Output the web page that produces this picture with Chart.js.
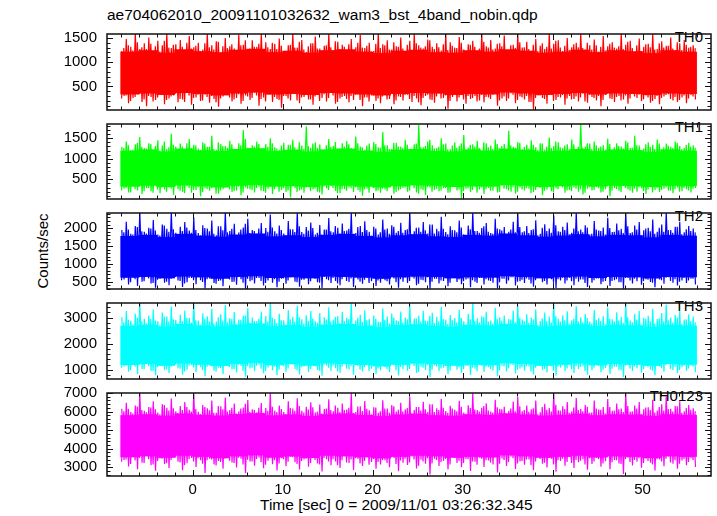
<!DOCTYPE html>
<html>
<head>
<meta charset="utf-8">
<script src="https://cdn.jsdelivr.net/npm/chart.js@4.4.0/dist/chart.umd.min.js"></script>
<style>
  body { margin: 0; background: #fff; width: 717px; height: 516px; position: relative; overflow: hidden;
         font-family: 'Liberation Sans', Arial, Helvetica, sans-serif; }
  canvas { position: absolute; left: 0; }
  .txt { position: absolute; color: #000; font-size: 15px; line-height: 17px; white-space: nowrap; }
</style>
</head>
<body>
<div class="txt" style="left:107px;top:6px;font-size:15.5px;line-height:18px">ae704062010_20091101032632_wam3_bst_4band_nobin.qdp</div>
<div class="txt" style="left:42px;top:251px;transform:translate(-50%,-50%) rotate(-90deg)">Counts/sec</div>
<div class="txt" style="left:260px;top:496px;font-size:15.5px">Time [sec] 0 = 2009/11/01 03:26:32.345</div>
<div id="labels"></div>
<script>
// x axis
const xMin = -9.52, xMax = 57.6;
const xTicks = [0, 10, 20, 30, 40, 50];
const xMinorFrom = -8, xMinorTo = 56, xMinorStep = 2;

// dense core of the light curve: 2 s bins (centres)
const coreTimes = [-7, -5, -3, -1, 1, 3, 5, 7, 9, 11, 13, 15, 17, 19, 21, 23,
  25, 27, 29, 31, 33, 35, 37, 39, 41, 43, 45, 47, 49, 51, 53, 55];
// spike traces: one peak and one dip every 0.5 s starting at -8 s
const traceStart = -8, traceStep = 0.5;

// ---- TH0 ----
const th0Ticks = [500, 1000, 1500];
const th0Lo = [340, 360, 330, 370, 350, 320, 360, 380, 340, 350, 330, 370, 360, 340, 320, 350,
  370, 360, 330, 350, 340, 380, 360, 330, 350, 370, 340, 360, 350, 330, 360, 350];
const th0Hi = [1210, 1240, 1190, 1260, 1220, 1200, 1250, 1270, 1200, 1230, 1190, 1240, 1260, 1210, 1180, 1230,
  1250, 1200, 1190, 1240, 1210, 1260, 1230, 1190, 1210, 1250, 1200, 1240, 1220, 1180, 1240, 1210];
const th0Peak = [1230, 1480, 1320, 1600, 1270, 1390, 1510, 1180, 1440, 1350,
  1600, 1290, 1370, 1460, 1220, 1540, 1310, 1400, 1260, 1600,
  1350, 1430, 1190, 1500, 1330, 1280, 1570, 1360, 1240, 1450,
  1320, 1600, 1410, 1270, 1380, 1490, 1230, 1350, 1600, 1300,
  1460, 1210, 1390, 1530, 1280, 1340, 1600, 1250, 1420, 1360,
  1180, 1480, 1310, 1560, 1290, 1400, 1230, 1600, 1370, 1450,
  1260, 1330, 1510, 1200, 1440, 1600, 1350, 1280, 1470, 1320,
  1390, 1240, 1600, 1410, 1300, 1520, 1260, 1370, 1440, 1210,
  1600, 1330, 1460, 1280, 1390, 1550, 1250, 1360, 1600, 1300,
  1420, 1190, 1480, 1340, 1270, 1600, 1380, 1450, 1230, 1500,
  1310, 1400, 1600, 1260, 1350, 1470, 1220, 1540, 1330, 1410,
  1280, 1600, 1360, 1440, 1200, 1490, 1320, 1380, 1600, 1270,
  1430, 1340, 1510, 1250, 1390, 1460, 1300, 1350];
const th0Dip = [300, 150, 260, 340, 180, 90, 280, 220, 360, 130,
  250, 310, 170, 230, 400, 120, 270, 200, 330, 160,
  240, 80, 290, 350, 190, 260, 140, 310, 220, 370,
  100, 270, 330, 180, 240, 60, 300, 210, 350, 150,
  280, 230, 120, 320, 260, 190, 380, 140, 250, 300,
  170, 220, 340, 90, 270, 310, 200, 150, 360, 240,
  130, 290, 210, 330, 180, 250, 110, 300, 230, 160,
  350, 260, 40, 280, 190, 320, 140, 240, 300, 210,
  170, 270, 330, 100, 250, 200, 360, 150, 290, 230,
  180, 20, 310, 260, 140, 340, 220, 270, 120, 300,
  240, 190, 350, 160, 280, 210, 90, 320, 250, 180,
  300, 230, 140, 370, 260, 200, 310, 160, 240, 130,
  290, 340, 210, 180, 270, 150, 320, 230];
const th0Peak2 = [1290, 1350, 1240, 1410, 1310, 1270, 1380, 1330, 1220, 1440,
  1300, 1360, 1250, 1320, 1400, 1280, 1340, 1230, 1390, 1310,
  1260, 1420, 1330, 1290, 1370, 1240, 1350, 1450, 1280, 1320,
  1380, 1250, 1310, 1400, 1270, 1340, 1230, 1360, 1300, 1420,
  1260, 1330, 1390, 1280, 1240, 1350, 1310, 1430, 1270, 1320,
  1370, 1250, 1400, 1300, 1340, 1220, 1380, 1290, 1350, 1260,
  1410, 1320, 1280, 1360, 1240, 1390, 1300, 1330, 1450, 1270,
  1310, 1370, 1250, 1340, 1290, 1400, 1230, 1360, 1320, 1280,
  1420, 1300, 1260, 1380, 1330, 1240, 1350, 1290, 1410, 1310,
  1270, 1360, 1230, 1390, 1320, 1280, 1440, 1300, 1340, 1250,
  1370, 1310, 1290, 1400, 1260, 1350, 1320, 1240, 1380, 1300,
  1330, 1270, 1420, 1290, 1350, 1230, 1370, 1310, 1260, 1390,
  1300, 1340, 1280, 1410, 1250, 1360, 1320, 1290];
const th0Dip2 = [250, 310, 200, 280, 340, 230, 300, 190, 270, 320,
  220, 290, 350, 240, 180, 310, 260, 330, 210, 280,
  300, 170, 250, 320, 270, 230, 340, 200, 290, 260,
  310, 240, 190, 330, 280, 220, 300, 250, 350, 210,
  270, 320, 230, 290, 200, 340, 260, 310, 180, 280,
  240, 300, 330, 220, 270, 190, 310, 250, 290, 230,
  350, 210, 280, 320, 240, 300, 170, 260, 330, 220,
  290, 250, 310, 200, 340, 270, 230, 300, 260, 190,
  320, 280, 240, 350, 210, 290, 250, 330, 220, 270,
  300, 180, 260, 310, 240, 340, 200, 280, 320, 250,
  230, 290, 270, 190, 330, 260, 300, 220, 350, 240,
  280, 210, 310, 250, 290, 330, 230, 270, 200, 300,
  260, 320, 240, 280, 220, 310, 250, 290];

// ---- TH1 ----
const th1Ticks = [500, 1000, 1500];
const th1Lo = [330, 350, 320, 360, 340, 310, 350, 370, 330, 340, 320, 360, 350, 330, 310, 340,
  360, 350, 320, 340, 330, 370, 350, 320, 340, 360, 330, 350, 340, 320, 350, 340];
const th1Hi = [1190, 1220, 1170, 1240, 1200, 1180, 1230, 1250, 1180, 1210, 1170, 1220, 1240, 1190, 1160, 1210,
  1230, 1180, 1170, 1220, 1190, 1240, 1210, 1170, 1190, 1230, 1180, 1220, 1200, 1160, 1220, 1190];
const th1Peak = [1290, 1420, 1210, 1350, 1530, 1260, 1380, 1180, 1450, 1320,
  1240, 1610, 1300, 1370, 1200, 1480, 1340, 1250, 1400, 1290,
  1560, 1220, 1360, 1310, 1440, 1190, 1380, 1700, 1270, 1330,
  1420, 1240, 1360, 1500, 1280, 1210, 1390, 1340, 1460, 1230,
  1320, 1790, 1270, 1400, 1350, 1200, 1480, 1310, 1250, 1380,
  1430, 1260, 1540, 1300, 1220, 1370, 1410, 1280, 1650, 1330,
  1240, 1390, 1300, 1460, 1210, 1350, 1820, 1280, 1420, 1330,
  1260, 1500, 1370, 1230, 1400, 1310, 1580, 1270, 1350, 1440,
  1200, 1380, 1320, 1470, 1250, 1360, 1680, 1290, 1410, 1230,
  1340, 1450, 1280, 1380, 1220, 1520, 1310, 1400, 1260, 1350,
  1470, 1240, 1850, 1300, 1370, 1420, 1270, 1330, 1490, 1210,
  1380, 1300, 1440, 1260, 1560, 1320, 1250, 1400, 1340, 1470,
  1230, 1370, 1290, 1420, 1310, 1260, 1390, 1330];
const th1Dip = [270, 180, 320, 230, 140, 290, 210, 350, 160, 250,
  300, 120, 260, 200, 330, 170, 240, 90, 280, 220,
  310, 150, 260, 340, 190, 230, 110, 300, 250, 180,
  320, 210, 270, 140, 350, 240, 190, 60, 290, 230,
  170, 310, 250, 200, 130, 280, 330, 220, 160, 260,
  300, 190, 240, 100, 270, 320, 210, 170, 250, 340,
  150, 230, 290, 200, 360, 180, 260, 120, 300, 240,
  210, 280, 170, 330, 230, 40, 270, 190, 310, 250,
  140, 290, 220, 180, 340, 260, 200, 150, 300, 230,
  270, 190, 320, 110, 250, 210, 280, 350, 170, 240,
  300, 200, 130, 270, 230, 310, 180, 260, 90, 290,
  220, 340, 250, 170, 200, 280, 140, 310, 240, 190,
  270, 230, 160, 300, 210, 260, 180, 290];
const th1Peak2 = [1260, 1330, 1220, 1390, 1290, 1250, 1360, 1310, 1200, 1420,
  1280, 1340, 1230, 1300, 1380, 1260, 1320, 1210, 1370, 1290,
  1240, 1400, 1310, 1270, 1350, 1220, 1330, 1480, 1260, 1300,
  1360, 1230, 1290, 1380, 1250, 1320, 1210, 1340, 1280, 1400,
  1240, 1310, 1370, 1260, 1220, 1330, 1290, 1410, 1250, 1300,
  1350, 1230, 1380, 1280, 1320, 1200, 1360, 1270, 1330, 1240,
  1390, 1300, 1260, 1340, 1220, 1370, 1280, 1310, 1460, 1250,
  1290, 1350, 1230, 1320, 1270, 1380, 1210, 1340, 1300, 1260,
  1400, 1280, 1240, 1360, 1310, 1220, 1330, 1270, 1390, 1290,
  1250, 1340, 1210, 1370, 1300, 1260, 1420, 1280, 1320, 1230,
  1350, 1290, 1270, 1380, 1240, 1330, 1300, 1220, 1360, 1280,
  1310, 1250, 1400, 1270, 1330, 1210, 1350, 1290, 1240, 1370,
  1280, 1320, 1260, 1390, 1230, 1340, 1300, 1270];
const th1Dip2 = [230, 290, 180, 260, 320, 210, 280, 170, 250, 300,
  200, 270, 330, 220, 160, 290, 240, 310, 190, 260,
  280, 150, 230, 300, 250, 210, 320, 180, 270, 240,
  290, 220, 170, 310, 260, 200, 280, 230, 330, 190,
  250, 300, 210, 270, 180, 320, 240, 290, 160, 260,
  220, 280, 310, 200, 250, 170, 290, 230, 270, 210,
  330, 190, 260, 300, 220, 280, 150, 240, 310, 200,
  270, 230, 290, 180, 320, 250, 210, 280, 240, 170,
  300, 260, 220, 330, 190, 270, 230, 310, 200, 250,
  280, 160, 240, 290, 220, 320, 180, 260, 300, 230,
  210, 270, 250, 170, 310, 240, 280, 200, 330, 220,
  260, 190, 290, 230, 270, 310, 210, 250, 180, 280,
  240, 300, 220, 260, 200, 290, 230, 270];

// ---- TH2 ----
const th2Ticks = [500, 1000, 1500, 2000];
const th2Lo = [620, 640, 600, 650, 630, 590, 640, 660, 610, 630, 600, 650, 640, 620, 590, 630,
  650, 640, 600, 630, 620, 660, 640, 600, 630, 650, 610, 640, 630, 600, 640, 630];
const th2Hi = [1770, 1800, 1740, 1830, 1780, 1750, 1810, 1840, 1760, 1790, 1740, 1800, 1830, 1770, 1730, 1790,
  1820, 1760, 1740, 1800, 1780, 1840, 1790, 1750, 1780, 1820, 1760, 1800, 1790, 1730, 1800, 1780];
const th2Peak = [1950, 2180, 1840, 2060, 2450, 1900, 2010, 2230, 1820, 2100,
  1980, 2450, 1870, 2040, 2170, 1930, 2300, 1860, 2080, 1990,
  2210, 1800, 2050, 2450, 1920, 2120, 1880, 2020, 2260, 1950,
  1840, 2140, 2000, 2380, 1910, 2070, 1850, 2200, 1970, 2450,
  1890, 2030, 2160, 1820, 2090, 1960, 2280, 1880, 2010, 2130,
  1930, 2450, 1860, 2060, 2190, 1900, 2040, 1820, 2240, 1990,
  2080, 1870, 2150, 1950, 2450, 1910, 2020, 2170, 1850, 2100,
  1980, 2320, 1890, 2050, 1940, 2210, 1830, 2070, 2450, 1920,
  2000, 2140, 1860, 2260, 1970, 2030, 1900, 2180, 2450, 1880,
  2060, 1950, 2220, 1840, 2110, 1990, 2350, 1910, 2040, 2160,
  1870, 2450, 1960, 2080, 1820, 2200, 1930, 2020, 2290, 1890,
  2130, 1980, 2450, 1860, 2070, 2170, 1940, 2010, 2240, 1900,
  2100, 2450, 1950, 2040, 2180, 1880, 2060, 1990];
const th2Dip = [560, 420, 610, 380, 500, 650, 450, 330, 580, 470,
  400, 620, 530, 350, 480, 600, 430, 540, 310, 590,
  460, 520, 370, 640, 490, 410, 570, 300, 510, 450,
  600, 390, 530, 470, 340, 580, 440, 620, 500, 360,
  550, 430, 610, 480, 320, 570, 460, 520, 400, 630,
  490, 350, 560, 440, 600, 510, 380, 470, 540, 420,
  590, 330, 500, 460, 620, 400, 550, 480, 300, 580,
  450, 520, 370, 610, 490, 430, 560, 340, 500, 600,
  420, 530, 470, 310, 580, 440, 620, 390, 510, 460,
  550, 360, 600, 480, 420, 570, 320, 530, 450, 610,
  400, 500, 560, 350, 470, 590, 430, 520, 380, 540,
  480, 300, 600, 450, 510, 410, 570, 490, 340, 560,
  440, 620, 470, 390, 530, 460, 580, 420];
const th2Peak2 = [1880, 1960, 1820, 2030, 1910, 1850, 1990, 1930, 1790, 2070,
  1900, 1970, 1830, 1920, 2020, 1870, 1950, 1800, 2000, 1910,
  1840, 2050, 1940, 1880, 1980, 1810, 1960, 2120, 1860, 1920,
  1990, 1830, 1900, 2020, 1850, 1950, 1800, 1970, 1890, 2050,
  1840, 1930, 2000, 1870, 1820, 1960, 1910, 2060, 1850, 1920,
  1980, 1830, 2030, 1890, 1950, 1790, 1990, 1880, 1960, 1840,
  2040, 1920, 1870, 1970, 1820, 2010, 1900, 1940, 2100, 1850,
  1910, 1980, 1830, 1950, 1880, 2020, 1810, 1970, 1920, 1870,
  2050, 1900, 1840, 1990, 1930, 1820, 1960, 1880, 2030, 1910,
  1860, 1970, 1800, 2010, 1920, 1870, 2080, 1900, 1950, 1830,
  1990, 1910, 1880, 2020, 1840, 1960, 1920, 1820, 2000, 1900,
  1940, 1860, 2050, 1880, 1960, 1800, 1990, 1910, 1840, 2010,
  1900, 1950, 1870, 2040, 1830, 1970, 1920, 1880];
const th2Dip2 = [540, 600, 480, 570, 620, 510, 590, 460, 550, 610,
  500, 580, 630, 520, 450, 600, 540, 620, 490, 570,
  590, 440, 530, 610, 560, 500, 630, 470, 580, 540,
  600, 520, 460, 620, 570, 500, 590, 530, 640, 480,
  550, 610, 510, 580, 470, 630, 540, 600, 450, 570,
  520, 590, 620, 500, 550, 460, 600, 530, 580, 510,
  640, 480, 570, 610, 520, 590, 440, 540, 620, 500,
  580, 530, 600, 470, 630, 560, 510, 590, 540, 460,
  610, 570, 520, 640, 480, 580, 530, 620, 500, 550,
  590, 450, 540, 600, 520, 630, 470, 570, 610, 530,
  510, 580, 560, 460, 620, 540, 590, 500, 640, 520,
  570, 480, 600, 530, 580, 620, 510, 550, 470, 590,
  540, 610, 520, 570, 500, 600, 530, 580];

// ---- TH3 ----
const th3Ticks = [1000, 2000, 3000];
const th3Lo = [1200, 1240, 1170, 1260, 1210, 1160, 1240, 1280, 1190, 1230, 1170, 1260, 1240, 1200, 1150, 1210,
  1260, 1240, 1170, 1210, 1190, 1270, 1240, 1170, 1210, 1260, 1190, 1240, 1210, 1170, 1240, 1210];
const th3Hi = [2670, 2710, 2640, 2740, 2680, 2650, 2720, 2760, 2660, 2700, 2630, 2710, 2740, 2670, 2620, 2700,
  2730, 2660, 2640, 2710, 2680, 2750, 2700, 2650, 2680, 2730, 2660, 2710, 2690, 2630, 2710, 2680];
const th3Peak = [3020, 3250, 2880, 3140, 3600, 2950, 3080, 3310, 2860, 3190,
  3040, 3420, 2910, 3110, 3270, 2980, 3600, 2890, 3160, 3050,
  3330, 2850, 3120, 3480, 2970, 3210, 2920, 3070, 3360, 3000,
  2870, 3230, 3060, 3600, 2940, 3140, 2900, 3290, 3030, 3450,
  2930, 3090, 3250, 2860, 3170, 3010, 3390, 2920, 3060, 3210,
  2990, 3600, 2890, 3110, 3280, 2950, 3080, 2850, 3340, 3040,
  3150, 2900, 3230, 3000, 3520, 2960, 3070, 3260, 2880, 3180,
  3030, 3410, 2910, 3100, 2980, 3300, 2860, 3140, 3600, 2970,
  3050, 3220, 2890, 3360, 3010, 3080, 2940, 3270, 3470, 2920,
  3120, 3000, 3310, 2870, 3190, 3040, 3600, 2950, 3090, 3240,
  2900, 3430, 3010, 3130, 2850, 3290, 2980, 3060, 3380, 2930,
  3200, 3030, 3600, 2890, 3140, 3250, 2990, 3070, 3330, 2940,
  3170, 3500, 3000, 3100, 3260, 2920, 3120, 3040];
const th3Dip = [1120, 930, 1210, 850, 1040, 1250, 960, 800, 1160, 990,
  880, 1230, 1070, 820, 1010, 1190, 910, 1100, 760, 1170,
  970, 1080, 840, 1240, 1020, 900, 1150, 740, 1060, 950,
  1200, 870, 1090, 990, 800, 1180, 930, 1220, 1040, 830,
  1130, 920, 1210, 1000, 780, 1160, 960, 1070, 880, 1240,
  1020, 820, 1140, 940, 1200, 1050, 850, 990, 1110, 910,
  1180, 790, 1030, 970, 1230, 880, 1120, 1000, 720, 1170,
  950, 1080, 840, 1210, 1010, 900, 1150, 810, 1050, 1190,
  920, 1100, 980, 760, 1160, 940, 1220, 860, 1060, 970,
  1130, 830, 1200, 1000, 900, 1170, 780, 1090, 950, 1210,
  880, 1040, 1140, 820, 990, 1180, 910, 1070, 850, 1120,
  1010, 730, 1190, 960, 1060, 890, 1150, 1020, 800, 1130,
  930, 1220, 1000, 870, 1100, 960, 1170, 910];
const th3Peak2 = [2820, 2910, 2740, 2990, 2860, 2780, 2950, 2890, 2700, 3040,
  2850, 2930, 2760, 2870, 2980, 2810, 2900, 2720, 2960, 2860,
  2770, 3010, 2890, 2820, 2940, 2730, 2910, 3090, 2800, 2870,
  2950, 2750, 2850, 2990, 2790, 2900, 2720, 2930, 2840, 3010,
  2770, 2880, 2960, 2810, 2740, 2920, 2860, 3030, 2790, 2870,
  2940, 2750, 2990, 2840, 2900, 2700, 2950, 2830, 2910, 2770,
  3000, 2870, 2810, 2930, 2740, 2970, 2850, 2890, 3070, 2790,
  2860, 2940, 2750, 2910, 2820, 2980, 2720, 2930, 2870, 2810,
  3010, 2850, 2770, 2950, 2880, 2740, 2920, 2820, 2990, 2860,
  2800, 2930, 2710, 2970, 2870, 2810, 3050, 2850, 2900, 2760,
  2950, 2860, 2820, 2980, 2770, 2910, 2870, 2740, 2960, 2850,
  2890, 2790, 3010, 2820, 2920, 2720, 2950, 2860, 2770, 2970,
  2850, 2900, 2810, 3000, 2750, 2930, 2870, 2820];
const th3Dip2 = [1080, 1160, 990, 1120, 1200, 1030, 1140, 960, 1100, 1180,
  1020, 1130, 1210, 1050, 940, 1160, 1090, 1190, 1000, 1120,
  1150, 930, 1070, 1180, 1110, 1030, 1200, 970, 1140, 1080,
  1160, 1050, 960, 1190, 1120, 1010, 1150, 1070, 1220, 990,
  1100, 1170, 1030, 1130, 970, 1200, 1080, 1160, 940, 1120,
  1050, 1140, 1190, 1010, 1100, 950, 1160, 1060, 1130, 1030,
  1210, 990, 1110, 1170, 1040, 1150, 920, 1080, 1190, 1010,
  1130, 1060, 1160, 970, 1200, 1100, 1030, 1150, 1080, 950,
  1170, 1120, 1040, 1220, 990, 1130, 1060, 1190, 1010, 1100,
  1140, 940, 1080, 1160, 1040, 1200, 970, 1120, 1170, 1060,
  1030, 1130, 1110, 960, 1190, 1080, 1150, 1010, 1210, 1050,
  1120, 990, 1160, 1060, 1130, 1190, 1030, 1100, 970, 1150,
  1070, 1180, 1040, 1120, 1000, 1160, 1060, 1130];

// ---- TH0123 ----
const th0123Ticks = [3000, 4000, 5000, 6000, 7000];
const th0123Lo = [3560, 3610, 3530, 3640, 3580, 3510, 3610, 3660, 3540, 3600, 3520, 3640, 3610, 3560, 3500, 3580,
  3640, 3610, 3530, 3580, 3550, 3660, 3610, 3530, 3580, 3640, 3550, 3610, 3580, 3520, 3610, 3580];
const th0123Hi = [5790, 5840, 5760, 5880, 5810, 5770, 5850, 5900, 5780, 5830, 5750, 5840, 5880, 5800, 5740, 5830,
  5870, 5790, 5760, 5840, 5810, 5890, 5830, 5770, 5810, 5870, 5790, 5840, 5820, 5750, 5840, 5810];
const th0123Peak = [6150, 6480, 5980, 6320, 7000, 6050, 6240, 6560, 5950, 6390,
  6200, 6700, 6020, 6300, 6520, 6100, 7000, 5990, 6360, 6180,
  6590, 5940, 6280, 6750, 6080, 6430, 6010, 6220, 6620, 6130,
  5960, 6460, 6190, 7000, 6060, 6330, 5990, 6550, 6170, 6720,
  6040, 6260, 6500, 5950, 6380, 6140, 6660, 6020, 6210, 6440,
  6110, 7000, 5980, 6290, 6570, 6070, 6230, 5930, 6610, 6160,
  6350, 6000, 6470, 6120, 6800, 6080, 6240, 6530, 5970, 6400,
  6180, 6690, 6030, 6310, 6100, 6580, 5950, 6340, 7000, 6090,
  6200, 6450, 6010, 6640, 6150, 6260, 6050, 6540, 6780, 6020,
  6320, 6120, 6600, 5960, 6420, 6190, 7000, 6070, 6280, 6510,
  6010, 6730, 6140, 6360, 5940, 6590, 6110, 6250, 6680, 6040,
  6440, 6170, 7000, 5990, 6330, 6520, 6130, 6230, 6630, 6060,
  6390, 6850, 6150, 6300, 6560, 6020, 6350, 6180];
const th0123Dip = [3400, 3050, 3550, 2900, 3250, 3620, 3120, 2820, 3480, 3180,
  2960, 3580, 3300, 2850, 3220, 3510, 3020, 3380, 2700, 3460,
  3150, 3340, 2930, 3600, 3260, 3000, 3470, 2680, 3320, 3090,
  3530, 2950, 3360, 3170, 2830, 3490, 3060, 3570, 3270, 2880,
  3420, 3030, 3560, 3210, 2780, 3440, 3110, 3310, 2970, 3600,
  3240, 2860, 3450, 3070, 3540, 3290, 2920, 3160, 3390, 3010,
  3500, 2790, 3250, 3130, 3580, 2940, 3410, 3200, 2620, 3470,
  3080, 3350, 2890, 3560, 3230, 3010, 3450, 2810, 3300, 3520,
  3020, 3370, 3150, 2720, 3480, 3070, 3590, 2910, 3310, 3140,
  3430, 2850, 3540, 3200, 3000, 3470, 2760, 3350, 3090, 3570,
  2960, 3280, 3440, 2870, 3180, 3500, 3040, 3330, 2900, 3400,
  3210, 2640, 3520, 3100, 3300, 2980, 3460, 3250, 2830, 3420,
  3060, 3580, 3190, 2930, 3370, 3120, 3490, 3020];
const th0123Peak2 = [6020, 6150, 5900, 6270, 6080, 5960, 6220, 6130, 5850, 6350,
  6060, 6180, 5920, 6090, 6250, 6000, 6140, 5870, 6240, 6070,
  5940, 6300, 6120, 6010, 6200, 5890, 6160, 6420, 5990, 6090,
  6210, 5930, 6050, 6260, 5970, 6140, 5870, 6190, 6040, 6300,
  5950, 6110, 6230, 6000, 5900, 6170, 6080, 6320, 5970, 6090,
  6200, 5920, 6270, 6030, 6150, 5850, 6220, 6020, 6160, 5950,
  6290, 6100, 6010, 6190, 5900, 6250, 6060, 6120, 6390, 5970,
  6080, 6200, 5930, 6160, 6020, 6260, 5880, 6190, 6110, 6000,
  6300, 6060, 5950, 6230, 6130, 5910, 6170, 6020, 6280, 6080,
  5990, 6180, 5860, 6250, 6100, 6000, 6360, 6060, 6140, 5940,
  6220, 6080, 6020, 6260, 5950, 6160, 6100, 5900, 6240, 6060,
  6120, 5980, 6300, 6020, 6170, 5870, 6220, 6080, 5950, 6250,
  6060, 6140, 6010, 6290, 5930, 6190, 6100, 6020];
const th0123Dip2 = [3300, 3420, 3180, 3370, 3500, 3240, 3440, 3150, 3340, 3470,
  3220, 3400, 3530, 3260, 3110, 3440, 3320, 3490, 3190, 3380,
  3430, 3100, 3290, 3470, 3360, 3230, 3520, 3160, 3410, 3310,
  3450, 3270, 3140, 3490, 3390, 3210, 3440, 3300, 3540, 3180,
  3340, 3470, 3240, 3400, 3160, 3510, 3320, 3440, 3110, 3380,
  3260, 3420, 3490, 3210, 3340, 3140, 3450, 3290, 3400, 3240,
  3540, 3180, 3370, 3470, 3260, 3430, 3090, 3320, 3490, 3210,
  3400, 3290, 3450, 3160, 3510, 3350, 3230, 3440, 3320, 3140,
  3470, 3380, 3260, 3540, 3190, 3400, 3290, 3490, 3210, 3340,
  3430, 3110, 3310, 3450, 3250, 3510, 3160, 3380, 3470, 3290,
  3230, 3400, 3360, 3150, 3490, 3320, 3440, 3210, 3540, 3270,
  3380, 3180, 3450, 3290, 3400, 3490, 3230, 3340, 3160, 3440,
  3310, 3470, 3260, 3380, 3200, 3450, 3290, 3400];

const panels = [
  { name: 'TH0', color: '#ff0000', lo: th0Lo, hi: th0Hi, peak: th0Peak, dip: th0Dip, peak2: th0Peak2, dip2: th0Dip2,
    ticks: th0Ticks, min: 12, max: 1582, minor: 100, top: 27, bottom: 117 },
  { name: 'TH1', color: '#00ff00', lo: th1Lo, hi: th1Hi, peak: th1Peak, dip: th1Dip, peak2: th1Peak2, dip2: th1Dip2,
    ticks: th1Ticks, min: 20, max: 1847, minor: 100, top: 117, bottom: 206 },
  { name: 'TH2', color: '#0000ff', lo: th2Lo, hi: th2Hi, peak: th2Peak, dip: th2Dip, peak2: th2Peak2, dip2: th2Dip2,
    ticks: th2Ticks, min: 293, max: 2424, minor: 100, top: 206, bottom: 296 },
  { name: 'TH3', color: '#00ffff', lo: th3Lo, hi: th3Hi, peak: th3Peak, dip: th3Dip, peak2: th3Peak2, dip2: th3Dip2,
    ticks: th3Ticks, min: 654, max: 3555, minor: 200, top: 296, bottom: 386 },
  { name: 'TH0123', color: '#ff00ff', lo: th0123Lo, hi: th0123Hi, peak: th0123Peak, dip: th0123Dip,
    peak2: th0123Peak2, dip2: th0123Dip2, ticks: th0123Ticks, min: 2535, max: 7000, minor: 200, top: 386, bottom: 476 },
];

const PAD = 12;
const FONT = { family: "'Liberation Sans', Arial, Helvetica, sans-serif", size: 15 };

// zig-zag trace through the peaks and dips of each 0.5 s step
function traceData(peak, dip, peakOff, dipOff) {
  const pts = [];
  for (let k = 0; k < peak.length; k++) {
    const t = traceStart + k * traceStep;
    const a = { x: t + peakOff, y: peak[k] };
    const b = { x: t + dipOff, y: dip[k] };
    if (peakOff < dipOff) pts.push(a, b); else pts.push(b, a);
  }
  return pts;
}

// frame + inward ticks on all four sides
function frameTicks(p) {
  return {
    id: 'frameTicks',
    afterDatasetsDraw(chart) {
      const { ctx, chartArea: a, scales: { x, y } } = chart;
      ctx.save();
      ctx.strokeStyle = '#111';
      ctx.lineWidth = 1;
      ctx.beginPath();
      for (let v = xMinorFrom; v <= xMinorTo; v += xMinorStep) {
        const px = Math.round(x.getPixelForValue(v)) + 0.5;
        const len = xTicks.includes(v) ? 6 : 3.5;
        ctx.moveTo(px, a.top); ctx.lineTo(px, a.top + len);
        ctx.moveTo(px, a.bottom); ctx.lineTo(px, a.bottom - len);
      }
      for (let v = Math.ceil(p.min / p.minor) * p.minor; v <= p.max; v += p.minor) {
        const py = Math.round(y.getPixelForValue(v)) + 0.5;
        const len = p.ticks.includes(v) ? 6 : 3.5;
        ctx.moveTo(a.left, py); ctx.lineTo(a.left + len, py);
        ctx.moveTo(a.right, py); ctx.lineTo(a.right - len, py);
      }
      ctx.stroke();
      ctx.lineWidth = 1.5;
      ctx.strokeRect(a.left, a.top, a.right - a.left, a.bottom - a.top);
      ctx.restore();
    }
  };
}

const labelsDiv = document.getElementById('labels');

panels.forEach((p, i) => {
  const last = i === panels.length - 1;
  const cv = document.createElement('canvas');
  const top = p.top - PAD;
  const h = last ? 516 - top : (p.bottom - p.top) + 2 * PAD;
  cv.width = 717; cv.height = h;
  cv.style.top = top + 'px';
  document.body.appendChild(cv);

  const lab = document.createElement('div');
  lab.className = 'txt';
  lab.style.right = '14px';
  lab.style.top = (p.top + 1) + 'px';
  lab.textContent = p.name;
  labelsDiv.appendChild(lab);

  const traceStyle = { type: 'line', borderColor: p.color, borderWidth: 1.2, pointRadius: 0,
                       tension: 0, fill: false, clip: 0 };

  new Chart(cv.getContext('2d'), {
    type: 'bar',
    data: {
      datasets: [
        { ...traceStyle, data: traceData(p.peak, p.dip, 0.125, 0.375) },
        { ...traceStyle, data: traceData(p.peak2, p.dip2, 0.35, 0.1) },
        {
          type: 'bar',
          data: coreTimes.map((t, j) => ({ x: t, y: [p.lo[j], p.hi[j]] })),
          backgroundColor: p.color,
          borderWidth: 0,
          barPercentage: 1,
          categoryPercentage: 1,
          clip: 0,
        },
      ],
    },
    options: {
      responsive: false,
      animation: false,
      events: [],
      devicePixelRatio: 1,
      layout: { padding: { left: 0, right: 6, top: PAD, bottom: last ? 0 : PAD } },
      plugins: { legend: { display: false }, tooltip: { enabled: false } },
      scales: {
        x: {
          type: 'linear', min: xMin, max: xMax, offset: false,
          display: last,
          grid: { display: false, drawTicks: false },
          border: { display: false },
          afterBuildTicks: (s) => { s.ticks = xTicks.map(v => ({ value: v })); },
          afterFit: (s) => { if (last) s.height = 40; },
          ticks: { font: FONT, color: '#000', padding: 5, maxRotation: 0, autoSkip: false,
                   callback: (v) => String(v) },
        },
        y: {
          type: 'linear', min: p.min, max: p.max,
          grid: { display: false, drawTicks: false },
          border: { display: false },
          afterBuildTicks: (s) => { s.ticks = p.ticks.map(v => ({ value: v })); },
          afterFit: (s) => { s.width = 107; },
          ticks: { font: FONT, color: '#000', padding: 10, autoSkip: false,
                   callback: (v) => String(v) },
        },
      },
    },
    plugins: [frameTicks(p)],
  });
});
</script>
</body>
</html>
